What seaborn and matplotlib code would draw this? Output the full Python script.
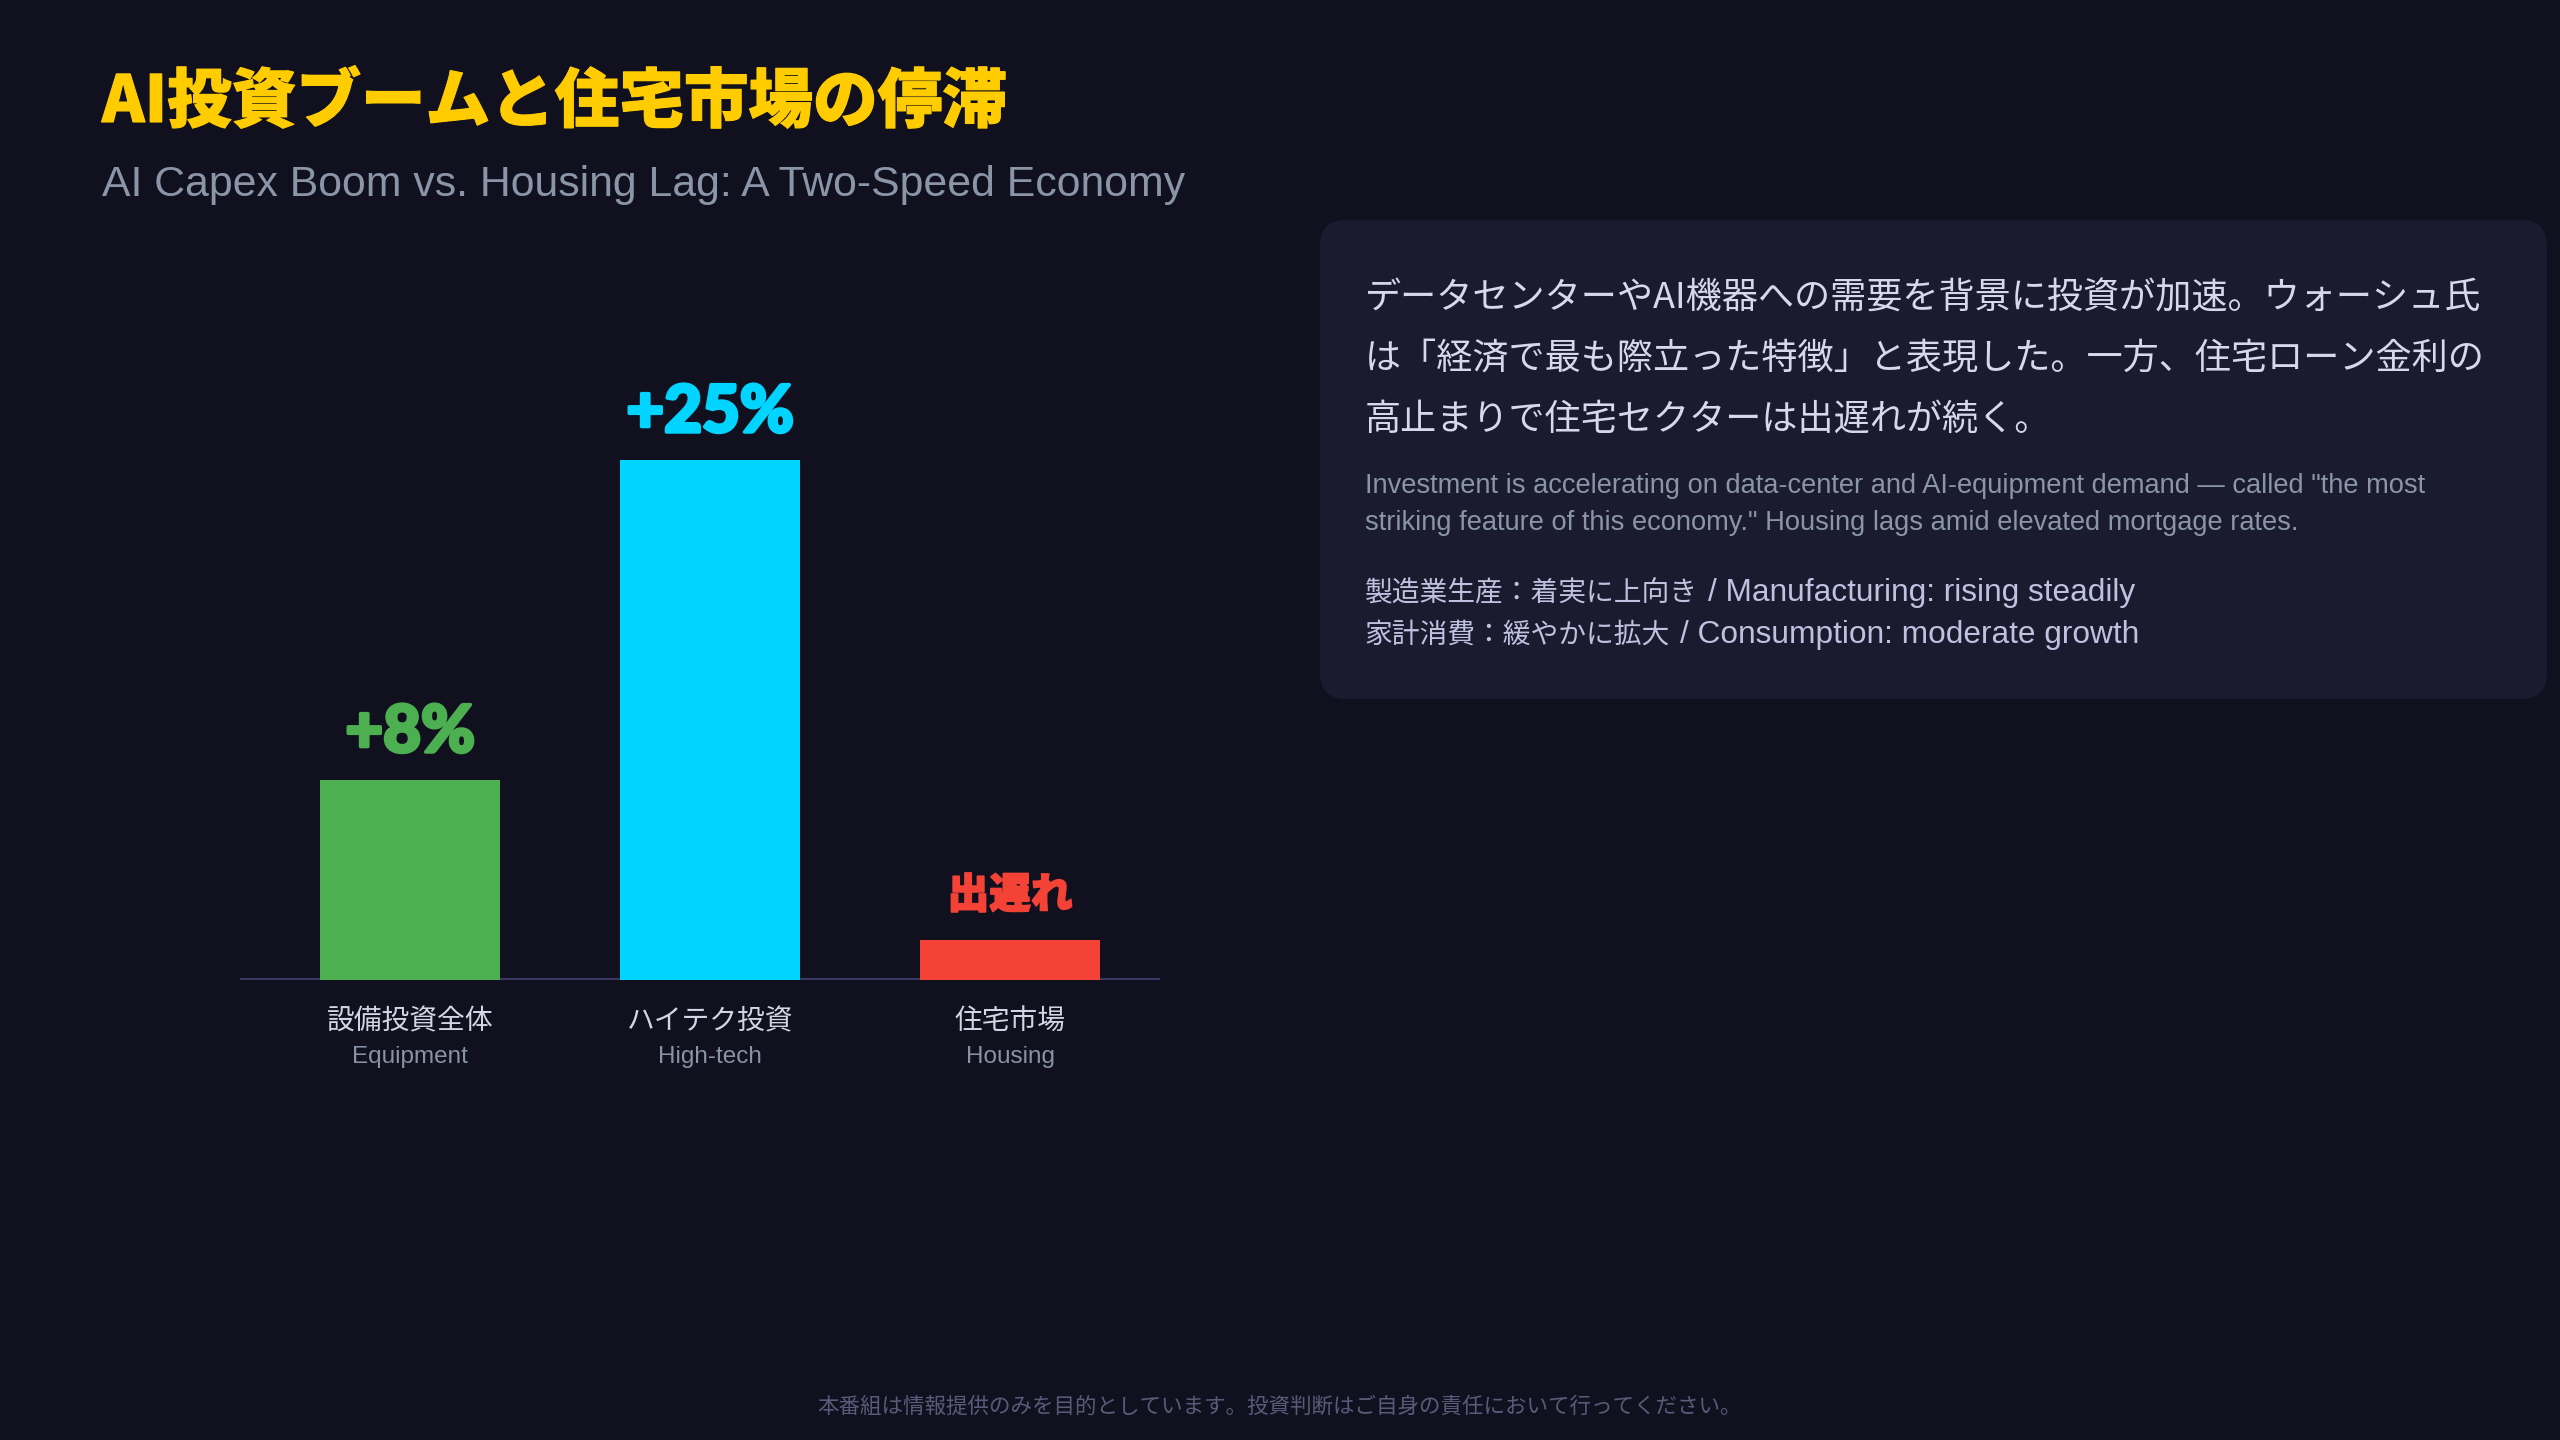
import numpy as np
import pandas as pd
import matplotlib
matplotlib.use("Agg")
import matplotlib.pyplot as plt
import matplotlib.transforms as mtransforms
import matplotlib.patheffects as pe
from matplotlib.patches import FancyBboxPatch
import seaborn as sns

# --- data ---
categories_jp = ["設備投資全体", "ハイテク投資", "住宅市場"]
categories_en = ["Equipment", "High-tech", "Housing"]
bar_heights = [100, 260, 20]          # relative bar height as drawn
value_labels = ["+8%", "+25%", "出遅れ"]
bar_colors = ["#4caf50", "#00d4ff", "#f44336"]

title_jp = "AI投資ブームと住宅市場の停滞"
subtitle_en = "AI Capex Boom vs. Housing Lag: A Two-Speed Economy"
panel_jp = [
    "データセンターやAI機器への需要を背景に投資が加速。ウォーシュ氏",
    "は「経済で最も際立った特徴」と表現した。一方、住宅ローン金利の",
    "高止まりで住宅セクターは出遅れが続く。",
]
panel_en = [
    "Investment is accelerating on data-center and AI-equipment demand \u2014 called \"the most",
    "striking feature of this economy.\" Housing lags amid elevated mortgage rates.",
]
points_jp = ["製造業生産：着実に上向き", "家計消費：緩やかに拡大"]
points_en = ["/ Manufacturing: rising steadily", "/ Consumption: moderate growth"]
footer = "本番組は情報提供のみを目的としています。投資判断はご自身の責任において行ってください。"

BG = "#10101e"
PANEL = "#1a1b2e"
JP = ["Noto Sans CJK JP", "DejaVu Sans"]
JP_HEAVY = ["Noto Sans CJK JP Black", "Noto Sans CJK JP", "DejaVu Sans"]
EN = ["Liberation Sans", "DejaVu Sans"]
NUM = ["Lato Black", "Lato", "DejaVu Sans"]

sns.set_theme(style="dark", rc={"axes.facecolor": BG, "figure.facecolor": BG})
plt.rcParams["font.family"] = JP

fig = plt.figure(figsize=(25.6, 14.4), dpi=100)
fig.patch.set_facecolor(BG)

# background canvas in pixel units (y from top)
cv = fig.add_axes([0, 0, 1, 1], zorder=0)
cv.set_xlim(0, 2560)
cv.set_ylim(1440, 0)
cv.axis("off")

cv.text(102, 122, title_jp, color="#ffcc00", fontsize=46.5, fontweight="black",
        family=JP_HEAVY, ha="left", va="baseline",
        path_effects=[pe.withStroke(linewidth=0.8, foreground="#ffcc00")])
cv.text(102, 196, subtitle_en, color="#8a95a8", fontsize=30.8,
        family=EN, ha="left", va="baseline")

# right info panel
cv.add_patch(FancyBboxPatch((1320, 220), 1227, 479,
                            boxstyle="round,pad=0,rounding_size=26",
                            facecolor=PANEL, edgecolor="none"))
for i, line in enumerate(panel_jp):
    cv.text(1365, 308 + i * 61, line, color="#d8d8ec", fontsize=26.0,
            family=JP, ha="left", va="baseline")
for i, line in enumerate(panel_en):
    cv.text(1365, 493 + i * 37, line, color="#8a95a8", fontsize=19.6,
            family=EN, ha="left", va="baseline")

fig.canvas.draw()
renderer = fig.canvas.get_renderer()
inv = cv.transData.inverted()
for i, (pj, pn) in enumerate(zip(points_jp, points_en)):
    y = 601 + i * 42
    t = cv.text(1365, y, pj, color="#c0c0e0", fontsize=20,
                family=JP, ha="left", va="baseline")
    bb = t.get_window_extent(renderer)
    x_end = inv.transform((bb.x1, bb.y0))[0]
    cv.text(x_end + 10, y, pn, color="#c0c0e0", fontsize=22.8,
            family=EN, ha="left", va="baseline")

cv.text(1280, 1413, footer, color="#5a5a7a", fontsize=15.5,
        family=JP, ha="center", va="baseline")

# bar chart
ax = fig.add_axes([240 / 2560, (1440 - 980) / 1440, 920 / 2560, 600 / 1440], zorder=1)
ax.set_facecolor("none")

df = pd.DataFrame({"cat": categories_jp, "h": bar_heights})
sns.barplot(data=df, x="cat", y="h", hue="cat", palette=bar_colors,
            saturation=1, width=0.6, legend=False, ax=ax, zorder=2,
            edgecolor="none", linewidth=0)

ax.set_xlim(-0.5667, 2.5)
ax.set_ylim(0, 300)
ax.axhline(0, color="#383862", lw=3, zorder=1)
for s in ax.spines.values():
    s.set_visible(False)
ax.set_xticks([])
ax.set_yticks([])
ax.set_xlabel("")
ax.set_ylabel("")
ax.grid(False)

for i, (h, lab, c) in enumerate(zip(bar_heights, value_labels, bar_colors)):
    if lab.startswith("+"):
        ax.text(i, h + 14, lab, color=c, fontsize=47, fontweight="black",
                family=NUM, ha="center", va="baseline",
                path_effects=[pe.withStroke(linewidth=2.5, foreground=c)])
    else:
        ax.text(i, h + 16, lab, color=c, fontsize=30, fontweight="black",
                family=JP_HEAVY, ha="center", va="baseline",
                path_effects=[pe.withStroke(linewidth=1.2, foreground=c)])

# category labels under the axis
tr = mtransforms.blended_transform_factory(ax.transData, cv.transData)
for i, (jp, en) in enumerate(zip(categories_jp, categories_en)):
    ax.text(i, 1029, jp, transform=tr, color="#d4d4e4", fontsize=20,
            family=JP, ha="center", va="baseline", clip_on=False)
    ax.text(i, 1063, en, transform=tr, color="#8893a6", fontsize=17.5,
            family=EN, ha="center", va="baseline", clip_on=False)

fig.savefig("out.png", dpi=100, facecolor=BG)
